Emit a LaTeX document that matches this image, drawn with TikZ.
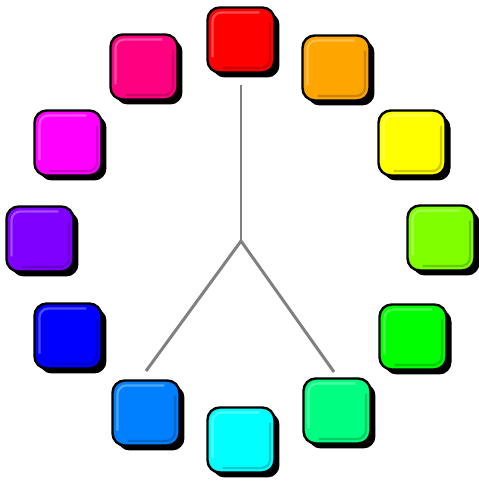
\documentclass[tikz,border=0pt]{standalone}
\usepackage{tikz}
\usetikzlibrary{shadows, calc}
\definecolor{wheelred}{HTML}{FF0000}
\definecolor{wheelorange}{HTML}{FFA500}
\definecolor{wheelyellow}{HTML}{FFFF00}
\definecolor{wheellime}{HTML}{80FF00}
\definecolor{wheelgreen}{HTML}{00FF00}
\definecolor{wheelspring}{HTML}{00FF80}
\definecolor{wheelcyan}{HTML}{00FFFF}
\definecolor{wheelazure}{HTML}{0080FF}
\definecolor{wheelblue}{HTML}{0000FF}
\definecolor{wheelviolet}{HTML}{8000FF}
\definecolor{wheelmagenta}{HTML}{FF00FF}
\definecolor{wheelrose}{HTML}{FF0080}
\definecolor{stemgray}{HTML}{808080}

\begin{document}
\begin{tikzpicture}[
    x=0.02cm, y=-0.02cm,
    swatch/.style={draw=black, line width=1.4pt, rounded corners=7pt,
        minimum width=1.34cm, minimum height=1.3cm, inner sep=0pt,
        fill=#1,
        drop shadow={shadow xshift=0.1cm, shadow yshift=-0.1cm, fill=black, opacity=1},
        path picture={
            \draw[white, opacity=.3, line width=1.3pt, rounded corners=5pt]
                ([xshift=.1cm, yshift=.3cm]path picture bounding box.south west)
                |- ([xshift=-.3cm, yshift=-.1cm]path picture bounding box.north east);
            \draw[black, opacity=.2, line width=1.3pt, rounded corners=5pt]
                ([xshift=.3cm, yshift=.09cm]path picture bounding box.south west)
                -| ([xshift=-.09cm, yshift=-.3cm]path picture bounding box.north east);
        }},
    stem/.style={draw=stemgray, line width=1.7pt}
]
    \useasboundingbox (0,0) rectangle (479,483);

    % Colour wheel
    \node[swatch=wheelred]     (red)     at (241,40)  {};
    \node[swatch=wheelorange]  (orange)  at (336,68)  {};
    \node[swatch=wheelyellow]  (yellow)  at (412,143) {};
    \node[swatch=wheellime]    (lime)    at (441,238) {};
    \node[swatch=wheelgreen]   (green)   at (413,337) {};
    \node[swatch=wheelspring]  (spring)  at (337,411) {};
    \node[swatch=wheelcyan]    (cyan)    at (241,440) {};
    \node[swatch=wheelazure]   (azure)   at (146,413) {};
    \node[swatch=wheelblue]    (blue)    at (68,336)  {};
    \node[swatch=wheelviolet]  (violet)  at (40,239)  {};
    \node[swatch=wheelmagenta] (magenta) at (68,143)  {};
    \node[swatch=wheelrose]    (rose)    at (144,67)  {};

    % Pointer
    \coordinate (hub)      at (241,241);
    \coordinate (topend)   at (241,85);
    \coordinate (leftend)  at (146,371);
    \coordinate (rightend) at (334,372);
    \draw[stem] (topend) -- (hub);
    \draw[stem] (hub) -- (leftend);
    \draw[stem] (hub) -- (rightend);
\end{tikzpicture}
\end{document}
